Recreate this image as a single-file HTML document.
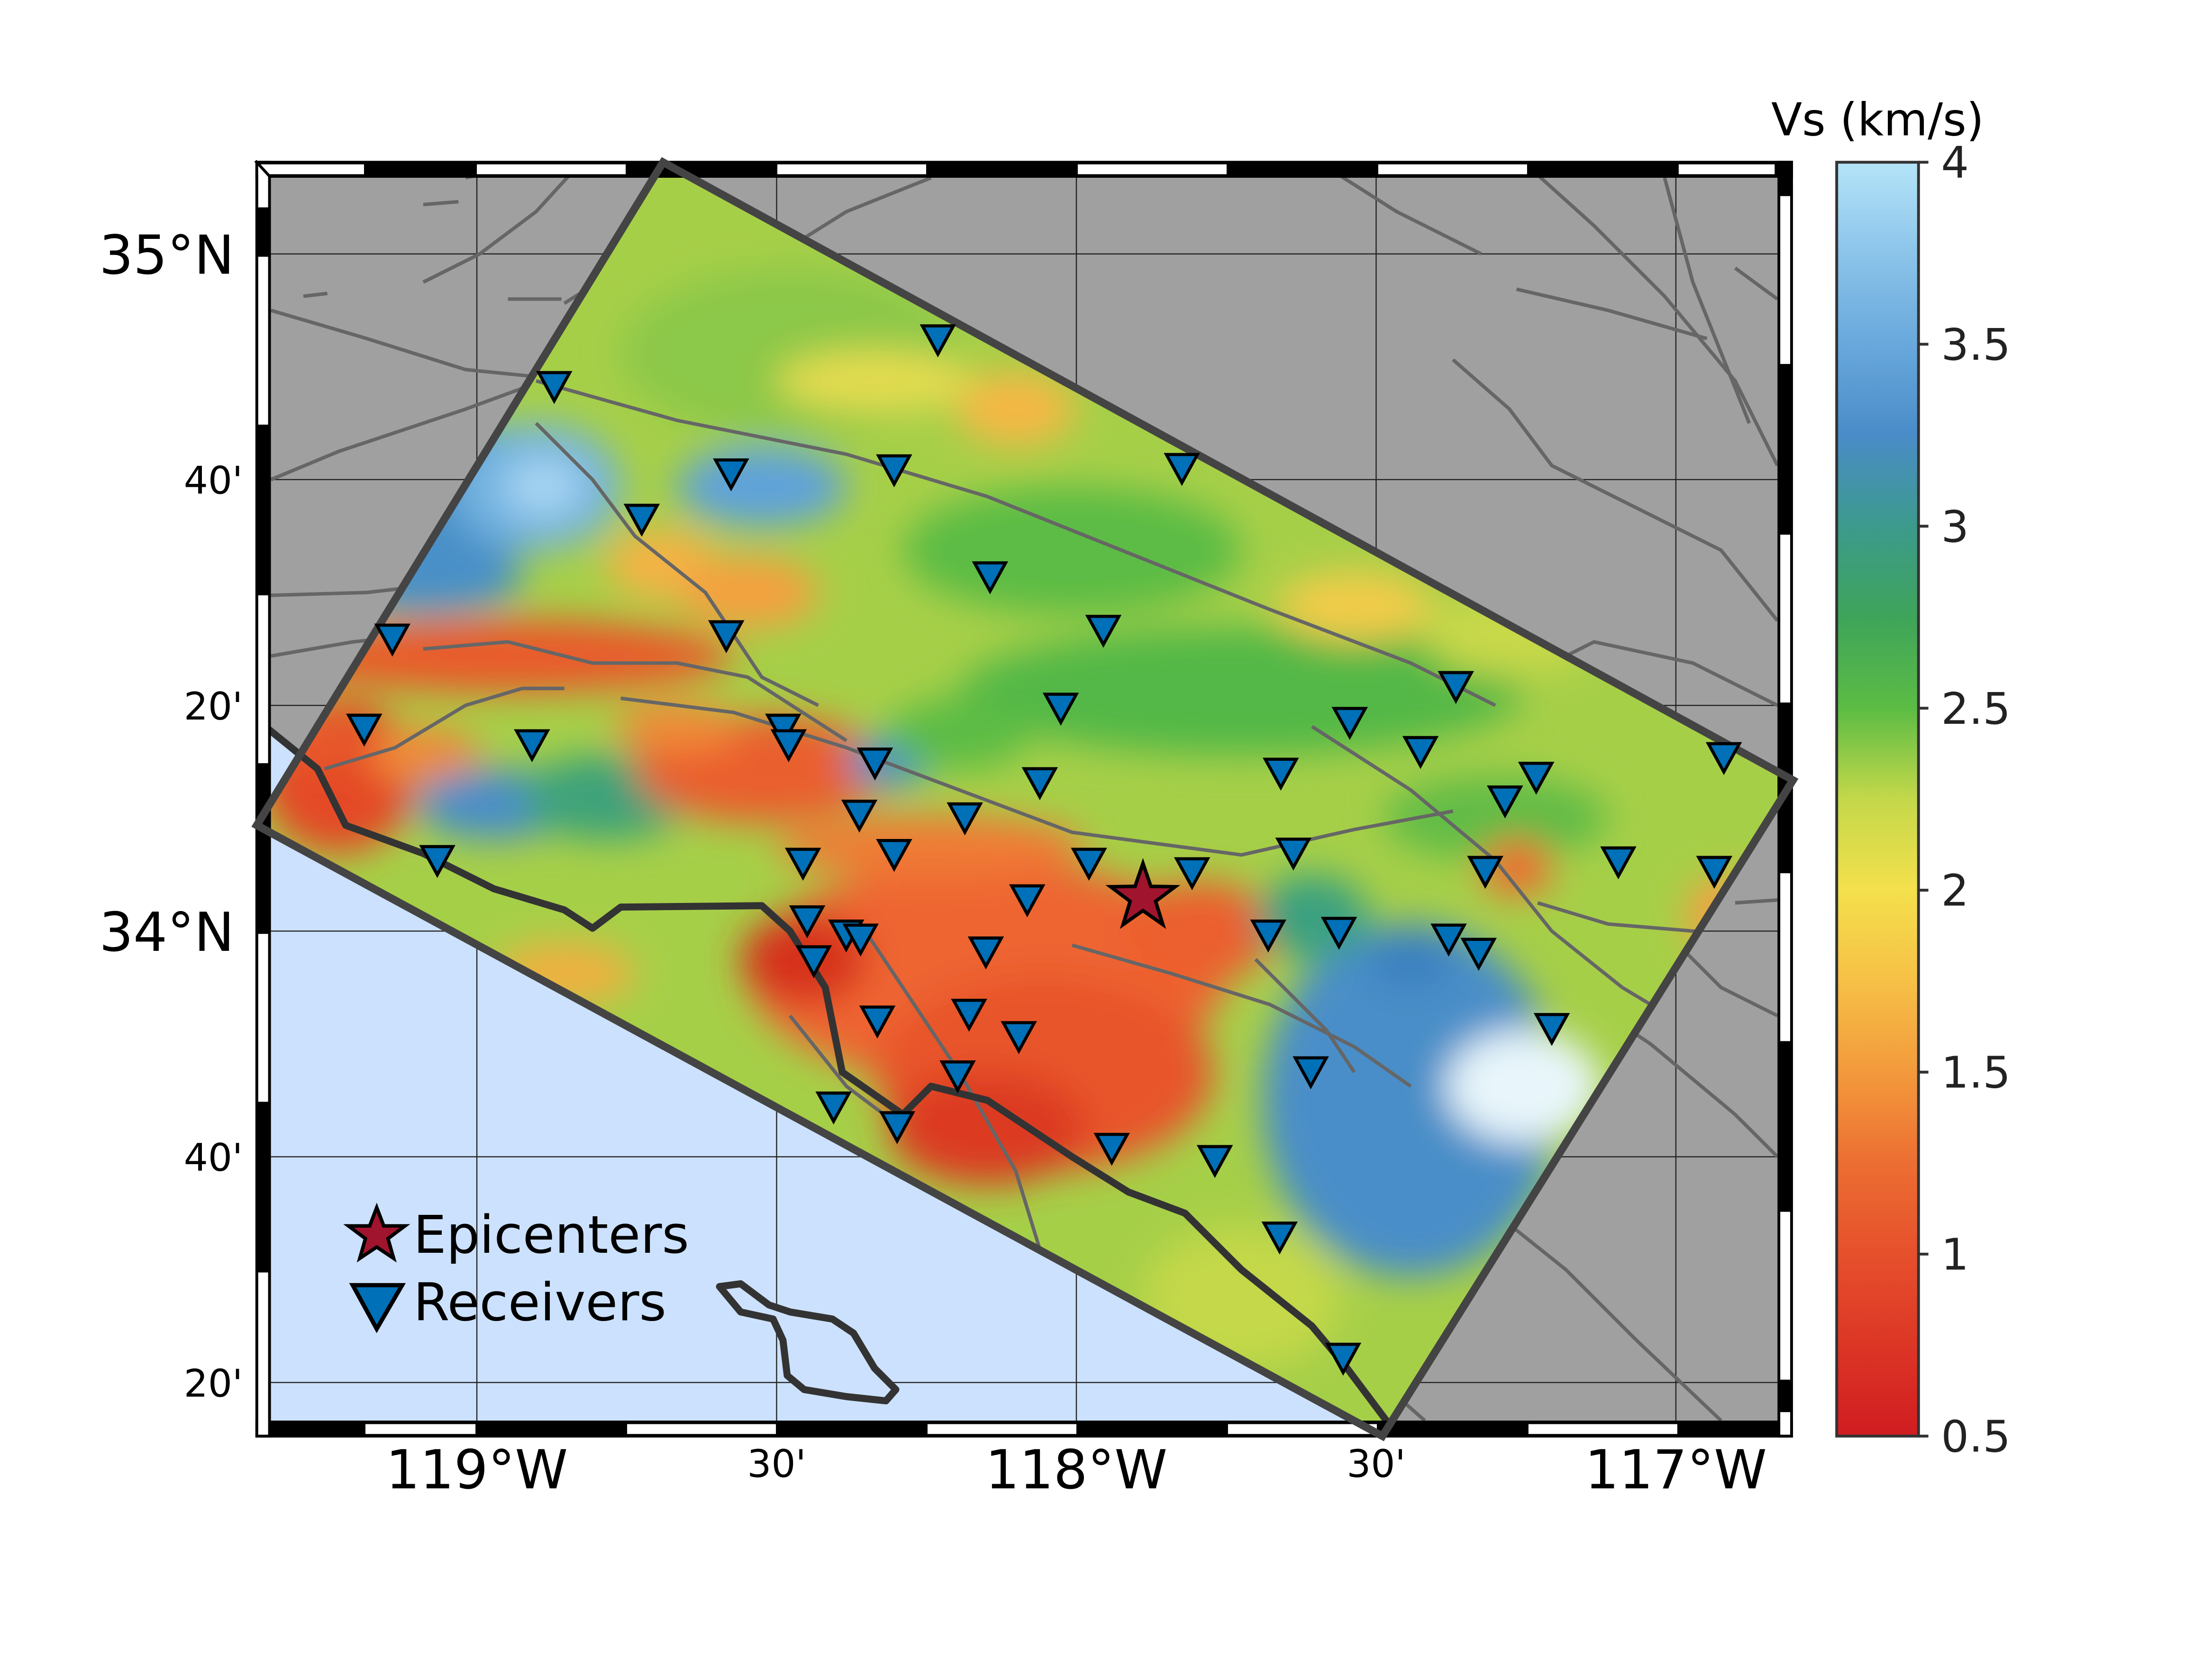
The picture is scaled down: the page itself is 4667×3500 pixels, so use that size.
<!DOCTYPE html>
<html><head><meta charset="utf-8">
<style>
html,body{margin:0;padding:0;background:#fff;}
svg{display:block;}
text{font-family:"DejaVu Sans","Liberation Sans",sans-serif;}
</style></head>
<body>
<svg id="fig" width="4667" height="3500" viewBox="0 0 1568 1176" xmlns="http://www.w3.org/2000/svg">
<defs>
  <clipPath id="rectClip"><polygon points="470,115 1271,553 980,1018 182,585"/></clipPath>
  <clipPath id="mapClip"><rect x="192" y="126" width="1068" height="881"/></clipPath>
  <filter id="blur" x="-20%" y="-20%" width="140%" height="140%"><feGaussianBlur stdDeviation="13"/></filter>
  <linearGradient id="cbGrad" x1="0" y1="1" x2="0" y2="0">
    <stop offset="0" stop-color="#d01c20"/>
    <stop offset="0.071" stop-color="#dc3626"/>
    <stop offset="0.143" stop-color="#e6502c"/>
    <stop offset="0.214" stop-color="#ec6e32"/>
    <stop offset="0.286" stop-color="#f39a3c"/>
    <stop offset="0.357" stop-color="#f6c046"/>
    <stop offset="0.429" stop-color="#f4e04c"/>
    <stop offset="0.5" stop-color="#c4d84a"/>
    <stop offset="0.571" stop-color="#5cbc44"/>
    <stop offset="0.643" stop-color="#3ea45a"/>
    <stop offset="0.714" stop-color="#3c9a8c"/>
    <stop offset="0.786" stop-color="#4a8cc8"/>
    <stop offset="0.857" stop-color="#68a8dc"/>
    <stop offset="0.929" stop-color="#8cc4ea"/>
    <stop offset="1" stop-color="#b4e4f8"/>
  </linearGradient>
</defs>

<rect x="192" y="126" width="1068" height="881" fill="#a0a0a0"/>
<g clip-path="url(#mapClip)">
<polygon fill="#cce1fd" points="192,515 225,545 245,585 300,605 350,630 420,655 440,643 540,642 560,660 585,700 597,760 640,790 660,770 700,780 760,820 800,845 840,860 880,900 930,940 955,970 985,1010 192,1010"/>
<g id="grid" stroke="#222" stroke-width="0.8"></g>
<g fill="none" stroke="#666" stroke-width="2.5">
  <polyline points="192,340 240,320 330,290 390,268"/>
  <polyline points="192,422 260,420 330,412 380,400"/>
  <polyline points="192,465 250,455 300,450"/>
  <polyline points="192,220 260,240 330,262 390,268"/>
  <polyline points="215,210 232,208"/>
  <polyline points="300,145 325,143"/>
  <polyline points="330,126 360,120 400,115"/>
  <polyline points="360,212 398,212"/>
  <polyline points="412,115 380,150 340,180 300,200"/>
  <polyline points="500,115 480,150 440,190 400,215"/>
  <polyline points="660,126 600,150 560,175"/>
  <polyline points="935,115 990,150 1050,180"/>
  <polyline points="1075,205 1140,220 1210,240"/>
  <polyline points="1030,255 1070,290 1100,330 1160,360 1220,390 1260,440"/>
  <polyline points="1080,115 1130,160 1180,210 1230,270 1260,330"/>
  <polyline points="1230,190 1260,212"/>
  <polyline points="1180,126 1200,200 1240,300"/>
  <polyline points="1075,510 1100,470 1130,455 1200,470 1260,500"/>
  <polyline points="1130,640 1180,660 1220,700 1260,720"/>
  <polyline points="1110,700 1170,740 1230,790 1260,820"/>
  <polyline points="1060,860 1110,900 1160,950 1220,1007"/>
  <polyline points="1230,640 1260,638"/>
  <polyline points="985,985 1010,1007"/>
</g>
</g>

<g clip-path="url(#rectClip)">
  <polygon points="470,115 1271,553 980,1018 182,585" fill="#a6cf48"/>
  <g filter="url(#blur)">
    <ellipse cx="560" cy="250" rx="120" ry="60" fill="#8cc84a"/>
    <ellipse cx="620" cy="270" rx="70" ry="22" fill="#e4dc50"/>
    <ellipse cx="720" cy="290" rx="42" ry="26" fill="#f5b844"/>
    <ellipse cx="760" cy="390" rx="120" ry="45" fill="#5cbc44"/>
    <ellipse cx="880" cy="490" rx="200" ry="45" fill="#52b846"/>
    <ellipse cx="960" cy="430" rx="55" ry="25" fill="#f2cc4a"/>
    <ellipse cx="1070" cy="450" rx="60" ry="30" fill="#c8d84a"/>
    <ellipse cx="330" cy="350" rx="80" ry="50" fill="#4a90c8"/>
    <ellipse cx="380" cy="345" rx="60" ry="45" fill="#72b2e0"/>
    <ellipse cx="385" cy="345" rx="28" ry="20" fill="#a8d6f2"/>
    <ellipse cx="540" cy="345" rx="60" ry="28" fill="#5ea2da"/>
    <ellipse cx="300" cy="410" rx="70" ry="25" fill="#4a90c8"/>
    <ellipse cx="470" cy="400" rx="40" ry="25" fill="#f5b244"/>
    <ellipse cx="530" cy="420" rx="50" ry="25" fill="#f5a040"/>
    <ellipse cx="360" cy="465" rx="160" ry="26" fill="#e95a2c"/>
    <ellipse cx="240" cy="550" rx="55" ry="55" fill="#e44a28"/>
    <ellipse cx="220" cy="520" rx="30" ry="25" fill="#e85a2c"/>
    <ellipse cx="300" cy="535" rx="40" ry="20" fill="#f08a38"/>
    <ellipse cx="350" cy="570" rx="55" ry="25" fill="#4a8ec8"/>
    <ellipse cx="430" cy="565" rx="60" ry="30" fill="#3ea27a"/>
    <ellipse cx="540" cy="545" rx="90" ry="38" fill="#ea5e2e"/>
    <ellipse cx="480" cy="515" rx="45" ry="18" fill="#f08a38"/>
    <ellipse cx="630" cy="540" rx="30" ry="18" fill="#4a90c8"/>
    <ellipse cx="680" cy="520" rx="50" ry="25" fill="#5cbc44"/>
    <ellipse cx="400" cy="690" rx="50" ry="22" fill="#f0b040"/>
    <ellipse cx="700" cy="690" rx="170" ry="80" fill="#ee6530"/>
    <ellipse cx="740" cy="760" rx="120" ry="70" fill="#e8552c"/>
    <ellipse cx="850" cy="660" rx="55" ry="35" fill="#ec5e2e"/>
    <ellipse cx="570" cy="680" rx="45" ry="32" fill="#d6301f"/>
    <ellipse cx="700" cy="800" rx="70" ry="40" fill="#dc3a22"/>
    <ellipse cx="660" cy="600" rx="110" ry="22" fill="#f07a34"/>
    <ellipse cx="1000" cy="780" rx="105" ry="125" fill="#4a8ec8"/>
    <ellipse cx="1080" cy="770" rx="55" ry="40" fill="#e8f6fb"/>
    <ellipse cx="1000" cy="680" rx="30" ry="20" fill="#3a80c0"/>
    <ellipse cx="930" cy="650" rx="40" ry="30" fill="#3aa080"/>
    <ellipse cx="1060" cy="580" rx="80" ry="30" fill="#62bc46"/>
    <ellipse cx="1075" cy="615" rx="25" ry="20" fill="#ee6a30"/>
    <ellipse cx="1225" cy="650" rx="30" ry="30" fill="#f2a242"/>
    <ellipse cx="880" cy="920" rx="70" ry="50" fill="#c4d84a"/>
  </g>
  <g fill="none" stroke="#666" stroke-width="2.5">
    <polyline points="380,270 480,298 600,322 700,352 800,392 900,432 1000,470 1060,500"/>
    <polyline points="930,515 1000,560 1060,610 1100,660 1150,700 1200,730 1271,810"/>
    <polyline points="440,495 520,505 600,530 680,560 760,590 820,598 880,606 960,588 1030,575"/>
    <polyline points="300,460 360,455 420,470 480,470 530,480 600,525"/>
    <polyline points="610,655 640,700 680,760 720,830 760,960"/>
    <polyline points="760,670 830,690 900,712 960,742 1000,770"/>
    <polyline points="890,680 940,730 960,760"/>
    <polyline points="560,720 600,770 640,800"/>
    <polyline points="380,300 420,340 450,380 500,420 540,480 580,500"/>
    <polyline points="230,545 280,530 330,500 370,488 400,488"/>
    <polyline points="1090,640 1140,655 1200,660 1271,662"/>
  </g>
</g>

<polyline fill="none" stroke="#333" stroke-width="5" stroke-linejoin="round" points="188,515 225,545 245,585 300,605 350,630 400,645 420,658 440,643 540,642 560,660 585,700 597,760 640,790 660,770 700,780 760,820 800,845 840,860 880,900 930,940 955,970 985,1010"/>
<path d="M510,912 L525,910 L545,925 L560,930 L590,935 L605,945 L620,970 L635,985 L628,993 L600,990 L570,985 L558,975 L555,950 L548,935 L525,930 Z" fill="#cce1fd" stroke="#333" stroke-width="5" stroke-linejoin="round"/>

<g id="frame"></g>
<polygon points="470,115 1271,553 980,1018 182,585" fill="none" stroke="#444" stroke-width="5.5"/>

<g id="marks"></g>
<g id="labels"></g>

<g>
  <polygon fill="#a0142e" stroke="#000" stroke-width="2.5"
    points="267,856 272,869 287,869 275,878 279,892 267,884 255,892 259,878 247,869 262,869"/>
  <text x="293" y="888" font-size="37">Epicenters</text>
  <polygon fill="#0070b8" stroke="#000" stroke-width="3" points="250,911 285,911 267,942"/>
  <text x="293" y="936" font-size="37">Receivers</text>
</g>

<rect x="1302" y="115" width="58" height="903" fill="url(#cbGrad)" stroke="#333" stroke-width="2"/>
<text x="1331" y="96" font-size="32" text-anchor="middle">Vs (km/s)</text>
<g id="cbticks"></g>

<script>
const receiverLon = [-118.231,-118.871,-118.576,-118.304,-117.824,-118.725,-118.144,-117.955,-119.141,-118.584,-117.367,-118.026,-117.544,-119.188,-118.908,-118.489,-118.480,-117.426,-118.336,-117.659,-116.920,-117.233,-118.061,-117.285,-118.362,-118.186,-119.066,-118.456,-118.304,-117.979,-117.807,-117.638,-117.318,-117.096,-116.936,-118.082,-118.449,-118.384,-118.360,-117.680,-117.562,-117.379,-117.329,-118.151,-118.438,-118.332,-118.179,-118.096,-117.207,-118.198,-117.609,-118.405,-118.299,-117.941,-117.769,-117.661,-117.555];
const receiverLat = [34.875,34.806,34.677,34.683,34.685,34.610,34.525,34.446,34.433,34.438,34.363,34.331,34.310,34.300,34.277,34.300,34.277,34.267,34.250,34.235,34.258,34.229,34.221,34.194,34.173,34.169,34.106,34.102,34.115,34.102,34.088,34.117,34.090,34.104,34.090,34.048,34.017,33.996,33.990,33.996,34.000,33.990,33.969,33.971,33.958,33.869,33.879,33.846,33.858,33.788,33.794,33.742,33.713,33.681,33.663,33.550,33.371];
const epicenterLon = [-117.889];
const epicenterLat = [34.050];
const lonTicks = [-119, -118.5, -118, -117.5, -117];
const lonTickLabels = ["119°W", "30'", "118°W", "30'", "117°W"];
const latTicks = [35, 34.8333, 34.6667, 34.5, 34.3333, 34.1667, 34, 33.8333, 33.6667, 33.5, 33.3333];
const latTickLabels = ["35°N", "", "40'", "", "20'", "", "34°N", "", "40'", "", "20'"];
const cbValues = [0.5, 1, 1.5, 2, 2.5, 3, 3.5, 4];
const cbLabels = ["0.5", "1", "1.5", "2", "2.5", "3", "3.5", "4"];

const NS = "http://www.w3.org/2000/svg";
function xOf(lon){ return 338 + (lon + 119) * 425; }
function yOf(lat){ return 180 + (35 - lat) * 480; }
function cbY(v){ return 1018 - (v - 0.5) / 3.5 * 903; }
function mk(tag, attrs, parent){ const e = document.createElementNS(NS, tag); for (const k in attrs) e.setAttribute(k, attrs[k]); parent.appendChild(e); return e; }

const grid = document.getElementById('grid');
lonTicks.forEach(function(lon){
  const l = mk('line', {x1: xOf(lon), x2: xOf(lon), y1: 126, y2: 1007}, grid);
  
  
});
latTicks.forEach(function(lat, i){
  if (i % 2) return;
  const l = mk('line', {x1: 192, x2: 1260, y1: yOf(lat), y2: yOf(lat)}, grid);
  
  
});

// frame bands
const fr = document.getElementById('frame');
mk('rect', {x: 181, y: 114, width: 1090, height: 12, fill: '#000'}, fr);
mk('rect', {x: 181, y: 1007, width: 1090, height: 12, fill: '#000'}, fr);
mk('rect', {x: 181, y: 114, width: 11, height: 905, fill: '#000'}, fr);
mk('rect', {x: 1260, y: 114, width: 11, height: 905, fill: '#000'}, fr);
function hSeg(y0, h, x0, x1, white){ if (white) mk('rect', {x: x0, y: y0, width: x1 - x0, height: h, fill: '#fff'}, fr); }
let topB = [183, 258, 337];
for (let x = 337 + 106.5; x < 1258; x += 106.5) topB.push(x);
topB.push(1258);
for (let i = 0; i < topB.length - 1; i++) {
  hSeg(116.5, 7, topB[i] + (i ? 1 : 0), topB[i+1], i % 2 === 0);
  hSeg(1009.5, 7, topB[i] + (i ? 1 : 0), topB[i+1], i % 2 === 1);
}
let leftB = [116, 147, 181];
for (let y = 181 + 120; y < 1017; y += 120) leftB.push(y);
leftB.push(1017);
for (let i = 0; i < leftB.length - 1; i++) {
  if (i % 2 === 0) mk('rect', {x: 183, y: leftB[i] + 1, width: 7, height: leftB[i+1] - leftB[i] - 1, fill: '#fff'}, fr);
}
let rightB = [1017, 1000, 978];
for (let y = 978 - 120; y > 116; y -= 120) rightB.push(y);
rightB.push(116);
for (let i = 0; i < rightB.length - 1; i++) {
  if (i % 2 === 0) mk('rect', {x: 1262, y: rightB[i+1] + 1, width: 7, height: rightB[i] - rightB[i+1] - 1, fill: '#fff'}, fr);
}
mk('line', {x1: 181, y1: 114, x2: 192, y2: 126, stroke: '#000', 'stroke-width': 2}, fr);

const marks = document.getElementById('marks');
receiverLon.forEach(function(lon, i){
  const x = xOf(lon), y = yOf(receiverLat[i]);
  const t = mk('polygon', {points: (x-11)+','+(y-9)+' '+(x+11)+','+(y-9)+' '+x+','+(y+11), fill: '#0070b8', stroke: '#000', 'stroke-width': 2.2}, marks);
  
  
});
epicenterLon.forEach(function(lon, i){
  const cx = xOf(lon), cy = yOf(epicenterLat[i]);
  let pts = [];
  for (let k = 0; k < 10; k++) {
    const r = k % 2 ? 9.5 : 24;
    const a = -Math.PI / 2 + k * Math.PI / 5;
    pts.push((cx + r * Math.cos(a)).toFixed(1) + ',' + (cy + r * Math.sin(a)).toFixed(1));
  }
  const s = mk('polygon', {points: pts.join(' '), fill: '#a0142e', stroke: '#000', 'stroke-width': 2.5}, marks);
  
  
});

const lab = document.getElementById('labels');
lonTicks.forEach(function(lon, i){
  const big = lonTickLabels[i].indexOf('°') >= 0;
  const t = mk('text', {x: xOf(lon), y: big ? 1055 : 1047, 'font-size': big ? 38 : 27, 'text-anchor': 'middle'}, lab);
  t.textContent = lonTickLabels[i];
  
  
});
latTicks.forEach(function(lat, i){
  if (!latTickLabels[i]) return;
  const big = latTickLabels[i].indexOf('°') >= 0;
  const t = mk('text', {x: big ? 166 : 172, y: yOf(lat) + (big ? 14 : 10), 'font-size': big ? 38 : 27, 'text-anchor': 'end'}, lab);
  t.textContent = latTickLabels[i];
  
  
});

const cbt = document.getElementById('cbticks');
cbValues.forEach(function(v, i){
  const y = cbY(v);
  const tk = mk('line', {x1: 1360, x2: 1367, y1: y, y2: y, stroke: '#333', 'stroke-width': 2}, cbt);
  
  
  const t = mk('text', {x: 1376, y: y + 11, 'font-size': 31, fill: '#222'}, cbt);
  t.textContent = cbLabels[i];
  
  
});
</script>
</svg>
</body></html>
